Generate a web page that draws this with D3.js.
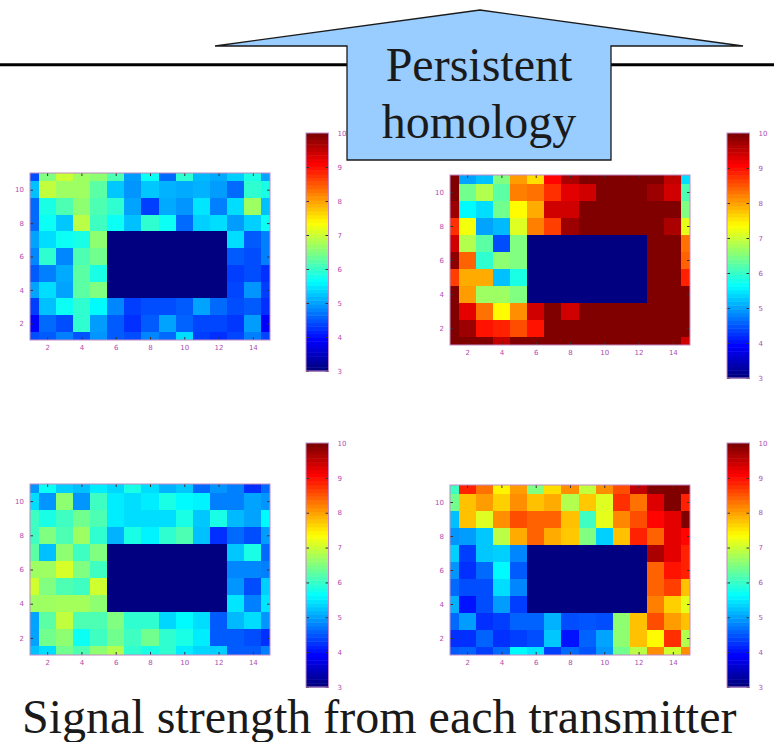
<!DOCTYPE html>
<html>
<head>
<meta charset="utf-8">
<script src="https://cdn.jsdelivr.net/npm/d3@7"></script>
<style>
body { margin: 0; background: #fff; }
svg { display: block; }
</style>
</head>
<body>
<script>
// GRID COORDINATES (columns x=1..15, rows listed top to bottom y=11..1)
var cols = [1, 2, 3, 4, 5, 6, 7, 8, 9, 10, 11, 12, 13, 14, 15];
var rows = [11, 10, 9, 8, 7, 6, 5, 4, 3, 2, 1];

// TICKS
var xTicks = [2, 4, 6, 8, 10, 12, 14];
var yTicks = [2, 4, 6, 8, 10];
var cbTicks = [3, 4, 5, 6, 7, 8, 9, 10];
var cbDomain = [3, 10];

// SIGNAL STRENGTH, TRANSMITTER 1 (top left)
var tx1 = [
  [4.4, 6.5, 7.0, 6.7, 6.6, 6.15, 4.95, 5.7, 4.6, 5.95, 5.15, 5.05, 5.3, 5.8, 5.0],
  [5.2, 6.95, 6.7, 6.7, 6.25, 5.25, 4.9, 5.25, 5.1, 5.05, 5.1, 4.95, 4.6, 5.95, 5.8],
  [4.6, 5.8, 6.15, 6.6, 6.15, 5.95, 5.0, 4.3, 5.05, 4.9, 5.45, 4.75, 5.4, 6.7, 5.2],
  [4.6, 5.7, 5.25, 6.9, 6.05, 5.7, 5.2, 5.95, 5.7, 4.6, 5.3, 5.4, 4.95, 5.3, 5.7],
  [5.0, 5.4, 5.7, 5.8, 6.6, 3, 3, 3, 3, 3, 3, 3, 5.4, 4.5, 4.75],
  [4.8, 5.95, 4.8, 6.15, 6.4, 3, 3, 3, 3, 3, 3, 3, 4.5, 4.4, 4.75],
  [4.5, 4.75, 5.05, 6.25, 5.8, 3, 3, 3, 3, 3, 3, 3, 4.3, 4.4, 4.2],
  [5.0, 5.4, 5.0, 6.25, 6.5, 3, 3, 3, 3, 3, 3, 3, 4.35, 4.9, 4.3],
  [4.3, 5.2, 5.7, 5.95, 5.6, 4.8, 4.3, 4.4, 4.4, 4.5, 5.0, 4.6, 4.4, 4.5, 4.2],
  [3.9, 4.6, 4.4, 5.95, 4.95, 4.5, 4.2, 4.5, 5.0, 4.55, 4.35, 4.35, 4.25, 4.95, 3.85],
  [4.4, 4.5, 4.75, 4.45, 4.9, 4.5, 4.4, 4.8, 4.6, 5.4, 4.3, 4.2, 4.35, 4.75, 4.35]
];

// SIGNAL STRENGTH, TRANSMITTER 2 (top right)
var tx2 = [
  [10, 5.0, 5.2, 6.5, 8.05, 7.6, 9.1, 9.7, 10, 10, 10, 10, 10, 9.55, 5.4],
  [10, 6.4, 6.85, 6.25, 8.25, 8.35, 8.8, 9.3, 9.45, 10, 10, 10, 9.8, 9.45, 6.15],
  [9.8, 5.6, 5.4, 6.4, 7.4, 7.95, 9.45, 9.45, 10, 10, 10, 10, 10, 10, 6.5],
  [8.8, 7.3, 5.0, 5.15, 7.15, 8.25, 8.7, 9.8, 10, 10, 10, 10, 10, 9.7, 7.2],
  [9.45, 6.85, 6.25, 4.4, 6.5, 3, 3, 3, 3, 3, 3, 3, 10, 10, 8.35],
  [9.9, 8.45, 5.95, 6.6, 6.5, 3, 3, 3, 3, 3, 3, 3, 10, 10, 8.45],
  [8.7, 7.95, 7.95, 5.2, 5.8, 3, 3, 3, 3, 3, 3, 3, 10, 10, 8.9],
  [10, 8.05, 6.7, 6.7, 6.5, 3, 3, 3, 3, 3, 3, 3, 10, 10, 10],
  [10, 9.3, 8.35, 7.4, 8.15, 9.45, 10, 9.45, 10, 10, 10, 10, 10, 10, 10],
  [10, 9.8, 9.0, 8.9, 8.6, 9.0, 10, 10, 10, 10, 10, 10, 10, 10, 10],
  [10, 10, 10, 9.55, 10, 10, 10, 10, 10, 10, 10, 10, 10, 10, 9.45]
];

// SIGNAL STRENGTH, TRANSMITTER 3 (bottom left)
var tx3 = [
  [4.9, 5.7, 5.3, 5.2, 5.5, 5.35, 5.8, 5.4, 5.1, 5.25, 4.6, 4.9, 4.75, 4.2, 4.6],
  [5.4, 4.9, 6.6, 4.9, 6.05, 5.5, 5.4, 5.5, 5.8, 5.6, 5.55, 4.75, 4.75, 5.0, 4.9],
  [6.05, 5.8, 6.05, 6.4, 6.15, 5.5, 5.4, 5.4, 5.4, 5.8, 5.25, 5.8, 5.15, 5.0, 5.6],
  [6.05, 6.5, 6.15, 6.7, 5.95, 5.1, 5.8, 5.55, 5.95, 6.15, 5.2, 4.2, 4.6, 4.4, 4.95],
  [6.25, 5.2, 6.6, 6.05, 6.5, 3, 3, 3, 3, 3, 3, 3, 5.25, 5.8, 4.6],
  [6.7, 6.7, 7.1, 6.5, 6.05, 3, 3, 3, 3, 3, 3, 3, 4.8, 4.8, 4.75],
  [7.05, 6.5, 6.15, 6.05, 7.05, 3, 3, 3, 3, 3, 3, 3, 4.9, 4.4, 5.3],
  [6.7, 6.7, 6.75, 6.75, 6.6, 3, 3, 3, 3, 3, 3, 3, 5.45, 4.75, 5.45],
  [5.0, 6.25, 6.95, 6.15, 6.15, 6.5, 5.95, 5.95, 5.35, 5.6, 5.4, 4.5, 5.15, 5.4, 4.9],
  [5.0, 6.4, 6.6, 5.7, 6.05, 6.4, 6.05, 6.4, 5.95, 5.8, 5.5, 4.5, 4.5, 4.4, 4.2],
  [5.2, 5.4, 6.4, 6.15, 6.6, 6.85, 5.95, 5.8, 5.95, 5.5, 5.35, 5.3, 4.5, 4.5, 4.75]
];

// SIGNAL STRENGTH, TRANSMITTER 4 (bottom right)
var tx4 = [
  [6.05, 8.9, 8.35, 7.45, 8.05, 6.5, 7.6, 8.15, 6.95, 8.15, 8.6, 9.55, 10, 10, 10],
  [6.4, 7.8, 8.05, 7.7, 8.15, 7.8, 7.95, 6.85, 7.75, 7.15, 8.8, 8.35, 9.35, 10, 8.9],
  [5.2, 7.8, 7.15, 8.15, 8.6, 8.45, 8.45, 7.8, 6.05, 7.2, 8.2, 8.6, 9.1, 9.3, 10],
  [4.9, 4.95, 5.25, 6.9, 7.95, 8.45, 7.95, 7.75, 6.5, 5.3, 7.8, 8.9, 8.45, 9.3, 9.1],
  [5.3, 4.3, 5.25, 5.3, 4.8, 3, 3, 3, 3, 3, 3, 3, 9.7, 9.3, 8.9],
  [4.9, 4.2, 4.6, 5.6, 4.5, 3, 3, 3, 3, 3, 3, 3, 8.45, 9.0, 8.9],
  [4.6, 4.4, 4.4, 5.4, 4.8, 3, 3, 3, 3, 3, 3, 3, 8.45, 8.7, 7.8],
  [5.1, 4.0, 4.4, 4.95, 4.3, 3, 3, 3, 3, 3, 3, 3, 8.25, 7.7, 7.2],
  [4.6, 4.95, 4.2, 4.3, 4.55, 4.55, 5.1, 4.4, 4.45, 4.4, 6.6, 7.8, 8.6, 8.05, 7.8],
  [4.2, 4.2, 4.55, 4.2, 4.3, 4.4, 5.25, 4.0, 4.55, 5.0, 6.6, 7.8, 7.4, 8.8, 6.85],
  [4.5, 4.55, 4.3, 4.6, 5.6, 5.45, 4.3, 4.6, 4.45, 4.9, 6.4, 6.9, 8.15, 7.05, 8.15]
];

// PANEL LAYOUT
var panels = [
  {data: tx1, left: 30,  right: 270, top: 173, bottom: 340, cbX: 306, cbTop: 133, cbBottom: 371},
  {data: tx2, left: 450, right: 690, top: 175, bottom: 345, cbX: 727, cbTop: 133, cbBottom: 378},
  {data: tx3, left: 30,  right: 270, top: 484, bottom: 655, cbX: 306, cbTop: 443, cbBottom: 687},
  {data: tx4, left: 450, right: 690, top: 485, bottom: 655, cbX: 727, cbTop: 443, cbBottom: 687}
];
var CB_W = 22.5;
var TICK_COL = '#b04cb0';
var FRAME_COL = '#c48ac4';

// JET COLORMAP
function jet(t)
{
    t = Math.max(0, Math.min(1, t));
    function cl(v) { return Math.max(0, Math.min(1, v)); }
    var r = cl(1.5 - Math.abs(4 * t - 3));
    var g = cl(1.5 - Math.abs(4 * t - 2));
    var b = cl(1.5 - Math.abs(4 * t - 1));
    return d3.rgb(r * 255, g * 255, b * 255).formatHex();
}
var norm = d3.scaleLinear().domain(cbDomain).range([0, 1]).clamp(true);
function color(v) { return jet(norm(v)); }

var svg = d3.select('body').append('svg')
    .attr('width', 774)
    .attr('height', 742);

// TOP RULE
svg.append('line')
    .attr('x1', 0).attr('x2', 774)
    .attr('y1', 64.7).attr('y2', 64.7)
    .attr('stroke', '#000')
    .attr('stroke-width', 3);

function styleAxis(g)
{
    g.select('.domain').remove();
    g.selectAll('.tick line').attr('stroke', '#333');
    g.selectAll('.tick text')
        .attr('fill', TICK_COL)
        .style('font-family', 'DejaVu Sans')
        .style('font-size', '7px');
}

// DRAW ONE HEATMAP WITH ITS COLORBAR
function drawPanel(p, i)
{
    var x = d3.scaleLinear().domain([1, 15]).range([p.left, p.right]);
    var y = d3.scaleLinear().domain([1, 11]).range([p.bottom, p.top]);

    svg.append('clipPath').attr('id', 'clip' + i)
        .append('rect')
        .attr('x', p.left).attr('y', p.top)
        .attr('width', p.right - p.left)
        .attr('height', p.bottom - p.top);

    var cells = [];
    p.data.forEach(function(row, r) {
        row.forEach(function(v, c) {
            cells.push({x: cols[c], y: rows[r], v: v});
        });
    });

    svg.append('g')
        .attr('clip-path', 'url(#clip' + i + ')')
        .selectAll('rect')
        .data(cells)
        .enter().append('rect')
        .attr('x', function(d) { return Math.round(x(d.x - 0.5)); })
        .attr('y', function(d) { return Math.round(y(d.y + 0.5)); })
        .attr('width', function(d) { return Math.round(x(d.x + 0.5)) - Math.round(x(d.x - 0.5)); })
        .attr('height', function(d) { return Math.round(y(d.y - 0.5)) - Math.round(y(d.y + 0.5)); })
        .attr('shape-rendering', 'crispEdges')
        .attr('fill', function(d) { return color(d.v); });

    // axes: ticks point inward on all four sides
    svg.append('g').attr('transform', 'translate(0,' + p.bottom + ')')
        .call(d3.axisBottom(x).tickValues(xTicks).tickSizeInner(-3).tickSizeOuter(0).tickPadding(5))
        .call(styleAxis);
    svg.append('g').attr('transform', 'translate(0,' + p.top + ')')
        .call(d3.axisTop(x).tickValues(xTicks).tickSizeInner(-3).tickSizeOuter(0).tickFormat(''))
        .call(styleAxis);
    svg.append('g').attr('transform', 'translate(' + p.left + ',0)')
        .call(d3.axisLeft(y).tickValues(yTicks).tickSizeInner(-3).tickSizeOuter(0).tickPadding(6))
        .call(styleAxis);
    svg.append('g').attr('transform', 'translate(' + p.right + ',0)')
        .call(d3.axisRight(y).tickValues(yTicks).tickSizeInner(-3).tickSizeOuter(0).tickFormat(''))
        .call(styleAxis);

    svg.append('rect')
        .attr('x', p.left).attr('y', p.top)
        .attr('width', p.right - p.left)
        .attr('height', p.bottom - p.top)
        .attr('fill', 'none')
        .attr('stroke', FRAME_COL)
        .attr('stroke-width', 1);

    // colorbar: 64 bands like matlab's jet(64)
    var cy = d3.scaleLinear().domain(cbDomain).range([p.cbBottom, p.cbTop]);
    var bands = d3.range(64);
    var step = (cbDomain[1] - cbDomain[0]) / 64;
    svg.append('g').selectAll('rect')
        .data(bands)
        .enter().append('rect')
        .attr('x', p.cbX)
        .attr('y', function(k) { return cy(cbDomain[0] + (k + 1) * step); })
        .attr('width', CB_W)
        .attr('height', function(k) { return cy(cbDomain[0] + k * step) - cy(cbDomain[0] + (k + 1) * step) + 0.5; })
        .attr('fill', function(k) { return jet(k / 63); });

    svg.append('g').attr('transform', 'translate(' + (p.cbX + CB_W) + ',0)')
        .call(d3.axisRight(cy).tickValues(cbTicks).tickFormat(d3.format('d'))
            .tickSizeInner(-3).tickSizeOuter(0).tickPadding(9))
        .call(styleAxis);
    svg.append('g').attr('transform', 'translate(' + p.cbX + ',0)')
        .call(d3.axisLeft(cy).tickValues(cbTicks).tickSizeInner(-3).tickSizeOuter(0).tickFormat(''))
        .call(styleAxis);

    svg.append('rect')
        .attr('x', p.cbX).attr('y', p.cbTop)
        .attr('width', CB_W)
        .attr('height', p.cbBottom - p.cbTop)
        .attr('fill', 'none')
        .attr('stroke', FRAME_COL)
        .attr('stroke-width', 1);
}

panels.forEach(drawPanel);

// ARROW WITH "PERSISTENT HOMOLOGY"
var arrowPts = [[215, 46], [480, 10], [743, 46], [611, 46], [611, 160], [347, 160], [347, 46]];
svg.append('polygon')
    .attr('points', arrowPts.map(function(d) { return d.join(','); }).join(' '))
    .attr('fill', '#99ccff')
    .attr('stroke', '#1a1a1a')
    .attr('stroke-width', 1.3);

svg.append('text')
    .attr('x', 479).attr('y', 81)
    .attr('text-anchor', 'middle')
    .style('font-family', 'Liberation Serif')
    .style('font-size', '48px')
    .attr('fill', '#1a1a1a')
    .text('Persistent');

svg.append('text')
    .attr('x', 479).attr('y', 138)
    .attr('text-anchor', 'middle')
    .style('font-family', 'Liberation Serif')
    .style('font-size', '48px')
    .attr('fill', '#1a1a1a')
    .text('homology');

// CAPTION
svg.append('text')
    .attr('x', 22).attr('y', 733)
    .style('font-family', 'Liberation Serif')
    .style('font-size', '48px')
    .attr('fill', '#1a1a1a')
    .text('Signal strength from each transmitter');
</script>
</body>
</html>
